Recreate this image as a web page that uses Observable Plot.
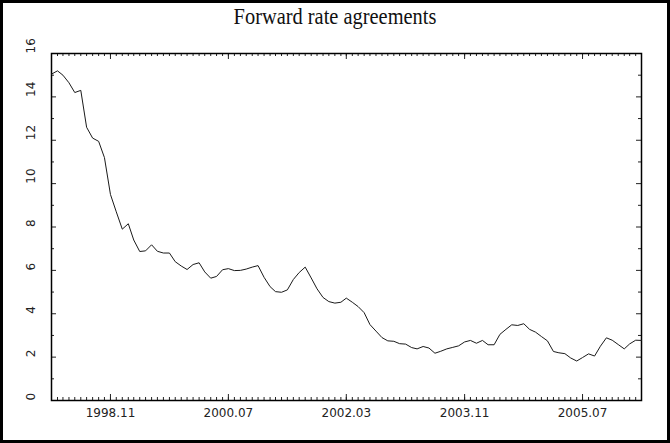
<!DOCTYPE html>
<html>
<head>
<meta charset="utf-8">
<script src="https://cdn.jsdelivr.net/npm/d3@7"></script>
<script src="https://cdn.jsdelivr.net/npm/@observablehq/plot@0.6"></script>
<style>
  html, body { margin: 0; padding: 0; background: #fff; }
  #wrap { position: relative; width: 670px; height: 443px; overflow: hidden; }
  #title { position: absolute; left: 0; top: 3px; width: 670px; text-align: center;
           font-family: "Liberation Serif", "DejaVu Serif", serif; font-size: 24px; color: #111;
           transform: scaleX(0.85); }
  #border { position: absolute; left: 0; top: 0; width: 670px; height: 443px; box-sizing: border-box;
            border: 3px solid #000; pointer-events: none; }
  #chart svg { display: block; }
</style>
</head>
<body>
<div id="wrap">
  <div id="chart"></div>
  <div id="title">Forward rate agreements</div>
  <div id="border"></div>
</div>
<script>
// Monthly forward rate agreement rates (%), January 1998 onward
const startMonth = "1998-01";
const endMonth = "2006-05";
const rates = [
  15.05, 15.2, 15.0, 14.65, 14.2, 14.3, 12.6, 12.1, 11.95, 11.2,
  9.5, 8.7, 7.9, 8.15, 7.4, 6.87, 6.9, 7.18, 6.88, 6.8,
  6.8, 6.4, 6.2, 6.04, 6.27, 6.35, 5.93, 5.64, 5.72, 6.03,
  6.08, 5.99, 6.0, 6.06, 6.15, 6.22, 5.68, 5.25, 5.02, 4.99,
  5.1, 5.58, 5.9, 6.15, 5.65, 5.15, 4.75, 4.56, 4.49, 4.53,
  4.72, 4.53, 4.33, 4.05, 3.5, 3.2, 2.9, 2.75, 2.73, 2.62,
  2.6, 2.44, 2.38, 2.49, 2.42, 2.18, 2.27, 2.38, 2.45, 2.52,
  2.7, 2.77, 2.64, 2.77, 2.57, 2.57, 3.05, 3.28, 3.49, 3.46,
  3.54, 3.28, 3.15, 2.95, 2.75, 2.26, 2.2, 2.16, 1.96, 1.82,
  1.98, 2.15, 2.05, 2.5, 2.89, 2.78, 2.58, 2.38, 2.61, 2.78,
  2.77
];
const xTickLabels = ["1998.11", "2000.07", "2002.03", "2003.11", "2005.07"];
const yTickValues = [0, 2, 4, 6, 8, 10, 12, 14, 16];

const parseMonth = d3.utcParse("%Y-%m");
const parseLabel = d3.utcParse("%Y.%m");
const t0 = parseMonth(startMonth);
const t1 = parseMonth(endMonth);
const months = d3.utcMonth.range(t0, d3.utcMonth.offset(t1, 1));
const series = rates.map((v, i) => ({date: months[i], rate: v}));
const xTicks = xTickLabels.map(parseLabel);
const yMinor = d3.range(1, 16, 2);

const W = 670, H = 443;
const mTop = 53, mRight = 29, mBottom = 43, mLeft = 51;
const innerH = H - mTop - mBottom;
const innerW = W - mLeft - mRight;
const ink = "#222";

const chart = Plot.plot({
  width: W,
  height: H,
  marginTop: mTop,
  marginRight: mRight,
  marginBottom: mBottom,
  marginLeft: mLeft,
  x: {type: "utc", domain: [t0, t1], axis: null},
  y: {domain: [0, 16], axis: null},
  style: {fontFamily: "'DejaVu Sans', sans-serif", fontSize: "11px", color: ink, background: "white"},
  marks: [
    // inward tick marks on all four sides
    Plot.ruleX(months, {insetTop: innerH - 3, stroke: ink}),
    Plot.ruleX(xTicks, {insetTop: innerH - 6, stroke: ink}),
    Plot.ruleX(months, {insetBottom: innerH - 3, stroke: ink}),
    Plot.ruleX(xTicks, {insetBottom: innerH - 6, stroke: ink}),
    Plot.ruleY(yTickValues, {insetRight: innerW - 5, stroke: ink}),
    Plot.ruleY(yMinor, {insetRight: innerW - 3, stroke: ink}),
    Plot.ruleY(yTickValues, {insetLeft: innerW - 5, stroke: ink}),
    Plot.ruleY(yMinor, {insetLeft: innerW - 3, stroke: ink}),
    Plot.frame({stroke: "#000", strokeWidth: 1.5}),
    // tick labels
    Plot.text(xTicks, {x: d => d, text: (d, i) => xTickLabels[i], frameAnchor: "bottom", dy: 16,
                       fill: ink, fontSize: 12, letterSpacing: 1.2}),
    Plot.text(yTickValues, {y: d => d, text: d => String(d), frameAnchor: "left", dx: -20,
                            rotate: -90, fill: ink, fontSize: 12, letterSpacing: 1}),
    // the rate series
    Plot.line(series, {x: "date", y: "rate", stroke: "#1a1a1a", strokeWidth: 1})
  ]
});
document.getElementById("chart").append(chart);
</script>
</body>
</html>
